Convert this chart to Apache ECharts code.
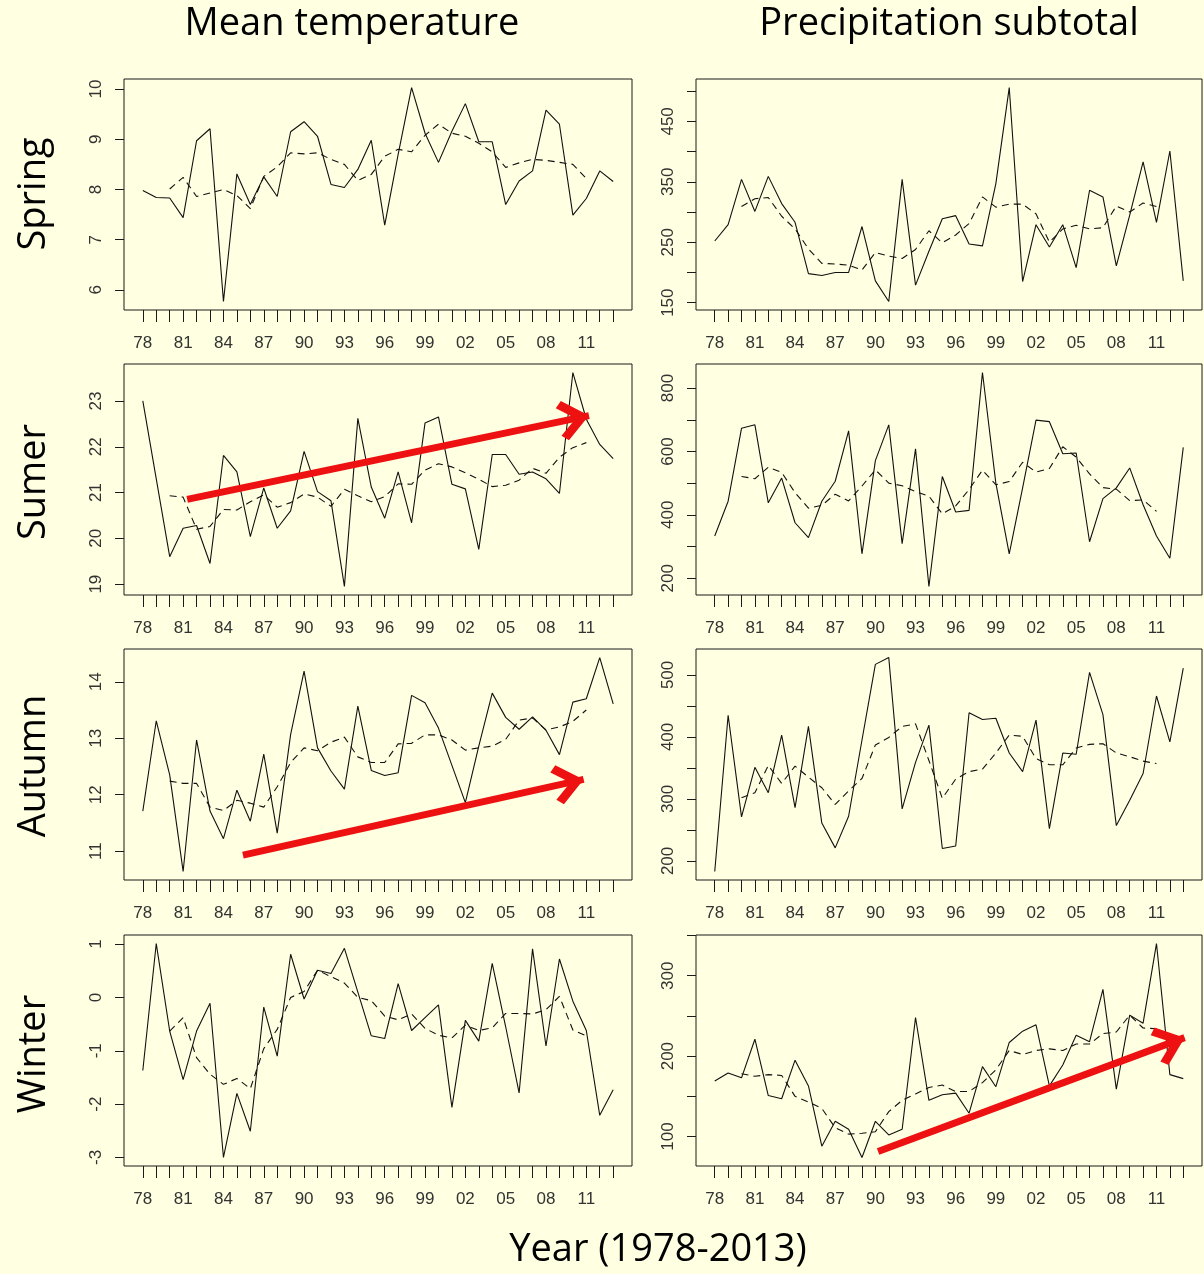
<!DOCTYPE html>
<html>
<head>
<meta charset="utf-8">
<script src="https://cdn.jsdelivr.net/npm/echarts@6/dist/echarts.min.js"></script>
<style>
html,body{margin:0;padding:0;background:#FFFFE1;}
#c{width:1204px;height:1274px;}
</style>
</head>
<body>
<div id="c"></div>
<script>
// ---------- data ----------
const YEARS = [1978,1979,1980,1981,1982,1983,1984,1985,1986,1987,1988,1989,1990,1991,1992,1993,1994,1995,1996,1997,1998,1999,2000,2001,2002,2003,2004,2005,2006,2007,2008,2009,2010,2011,2012,2013];
const MA_YEARS = [1980,1981,1982,1983,1984,1985,1986,1987,1988,1989,1990,1991,1992,1993,1994,1995,1996,1997,1998,1999,2000,2001,2002,2003,2004,2005,2006,2007,2008,2009,2010,2011];
const X_LABEL_YEARS = [1978,1981,1984,1987,1990,1993,1996,1999,2002,2005,2008,2011];

const SPRING_TEMP = [7.98,7.84,7.83,7.44,8.97,9.21,5.77,8.31,7.7,8.25,7.86,9.15,9.35,9.06,8.1,8.04,8.4,8.98,7.29,8.7,10.03,9.12,8.54,9.16,9.71,8.95,8.95,7.7,8.17,8.37,9.58,9.3,7.49,7.82,8.37,8.16];
const SPRING_TEMP_MA = [8.01,8.24,7.86,7.93,8.0,7.88,7.62,8.26,8.45,8.73,8.71,8.73,8.6,8.5,8.18,8.3,8.66,8.8,8.75,9.08,9.3,9.12,9.06,8.92,8.75,8.44,8.53,8.6,8.58,8.54,8.5,8.22];
const SPRING_PREC = [252,279,354,301,359,314,283,198,195,200,200,276,186,152,354,179,235,289,294,247,244,347,506,185,279,242,279,208,336,325,211,295,383,283,401,186];
const SPRING_PREC_MA = [309,322,324,293,272,239,215,214,212,204,233,227,223,238,269,249,262,281,325,308,313,313,297,250,272,278,272,274,310,300,315,309];

const SUMMER_TEMP = [23.0,21.3,19.6,20.22,20.28,19.45,21.81,21.45,20.04,21.1,20.22,20.6,21.9,21.02,20.82,18.95,22.62,21.12,20.44,21.45,20.34,22.52,22.65,21.18,21.08,19.76,21.83,21.83,21.4,21.45,21.3,20.98,23.62,22.6,22.05,21.74];
const SUMMER_TEMP_MA = [20.93,20.9,20.2,20.26,20.63,20.62,20.8,20.95,20.68,20.78,20.97,20.9,20.7,21.07,20.93,20.8,20.91,21.19,21.18,21.49,21.63,21.56,21.43,21.29,21.13,21.16,21.27,21.53,21.42,21.77,21.98,22.09];
const SUMMER_PREC = [333,443,673,684,438,516,375,328,443,506,665,277,571,684,309,608,174,521,409,414,849,500,277,485,699,694,593,595,315,451,485,548,432,333,263,613];
const SUMMER_PREC_MA = [521,514,550,534,470,421,430,465,444,491,542,500,492,473,459,403,428,480,541,495,505,566,535,546,615,582,529,486,481,445,447,411];

const AUTUMN_TEMP = [11.71,13.31,12.35,10.64,12.97,11.71,11.22,12.08,11.53,12.72,11.32,13.07,14.19,12.83,12.42,12.1,13.57,12.43,12.34,12.39,13.76,13.63,13.18,12.52,11.86,12.86,13.8,13.37,13.16,13.38,13.14,12.71,13.64,13.7,14.43,13.61];
const AUTUMN_TEMP_MA = [12.24,12.2,12.2,11.78,11.72,11.9,11.85,11.78,12.14,12.57,12.83,12.78,12.93,13.02,12.67,12.57,12.57,12.9,12.91,13.06,13.06,12.97,12.79,12.83,12.86,12.98,13.32,13.36,13.15,13.2,13.3,13.5];
const AUTUMN_PREC = [183,435,271,351,310,403,286,417,261,221,272,395,517,528,284,359,419,220,224,439,428,430,374,344,427,252,374,372,504,436,257,298,341,466,392,511];
const AUTUMN_PREC_MA = [302,310,354,325,353,335,318,291,313,333,387,399,417,421,362,301,332,344,348,374,403,401,365,355,355,382,388,389,374,368,361,357];

const WINTER_TEMP = [-1.37,1.01,-0.63,-1.54,-0.63,-0.11,-3.0,-1.8,-2.51,-0.18,-1.1,0.81,-0.03,0.51,0.45,0.92,0.1,-0.72,-0.77,0.26,-0.62,-0.38,-0.14,-2.06,-0.43,-0.82,0.64,-0.55,-1.79,0.91,-0.91,0.72,-0.07,-0.62,-2.21,-1.73];
const WINTER_TEMP_MA = [-0.63,-0.38,-1.13,-1.44,-1.63,-1.52,-1.71,-0.96,-0.6,0.0,0.11,0.51,0.39,0.27,0.0,-0.06,-0.35,-0.42,-0.31,-0.58,-0.71,-0.76,-0.52,-0.62,-0.57,-0.3,-0.3,-0.31,-0.23,0.02,-0.61,-0.72];
const WINTER_PREC = [169,179,173,221,151,147,195,163,88,119,109,74,119,102,109,248,145,152,154,129,187,162,217,231,239,163,189,226,218,283,159,251,241,340,177,172];
const WINTER_PREC_MA = [178,175,177,176,150,143,135,111,103,104,106,131,145,153,161,164,156,156,167,183,207,202,207,209,207,215,215,228,230,251,235,234];

// y-axis ticks and labels per panel
const SPRING_TEMP_TICKS = [6,7,8,9,10],        SPRING_TEMP_LABELS = [6,7,8,9,10];
const SPRING_PREC_TICKS = [150,200,250,300,350,400,450,500], SPRING_PREC_LABELS = [150,250,350,450];
const SUMMER_TEMP_TICKS = [19,20,21,22,23],    SUMMER_TEMP_LABELS = [19,20,21,22,23];
const SUMMER_PREC_TICKS = [200,300,400,500,600,700,800], SUMMER_PREC_LABELS = [200,400,600,800];
const AUTUMN_TEMP_TICKS = [11,12,13,14],       AUTUMN_TEMP_LABELS = [11,12,13,14];
const AUTUMN_PREC_TICKS = [200,250,300,350,400,450,500], AUTUMN_PREC_LABELS = [200,300,400,500];
const WINTER_TEMP_TICKS = [-3,-2,-1,0,1],      WINTER_TEMP_LABELS = [-3,-2,-1,0,1];
const WINTER_PREC_TICKS = [100,150,200,250,300,350], WINTER_PREC_LABELS = [100,200,300];

// red trend arrows, in data units [x1, y1, x2, y2]
const ARROW_SUMMER_TEMP = [1981.3, 20.85, 2011.2, 22.68];
const ARROW_AUTUMN_TEMP = [1985.45, 10.93, 2010.8, 12.27];
const ARROW_WINTER_PREC = [1990.2, 81.5, 2013.1, 223];

const COL_TITLES = ['Mean temperature', 'Precipitation subtotal'];
const ROW_TITLES = ['Spring', 'Sumer', 'Autumn', 'Winter'];
const X_TITLE = 'Year (1978-2013)';

// ---------- layout ----------
const COL_LEFT = [124, 696], COL_W = [508, 506];
const ROW_TOP = [79, 364, 649, 935], ROW_H = 231;
const ROW_MID = [194, 482, 766, 1054];
const COL_MID = [352, 949];

const panels = [
  {row:0,col:0,v:SPRING_TEMP,ma:SPRING_TEMP_MA,t:SPRING_TEMP_TICKS,l:SPRING_TEMP_LABELS,a:null},
  {row:0,col:1,v:SPRING_PREC,ma:SPRING_PREC_MA,t:SPRING_PREC_TICKS,l:SPRING_PREC_LABELS,a:null},
  {row:1,col:0,v:SUMMER_TEMP,ma:SUMMER_TEMP_MA,t:SUMMER_TEMP_TICKS,l:SUMMER_TEMP_LABELS,a:ARROW_SUMMER_TEMP},
  {row:1,col:1,v:SUMMER_PREC,ma:SUMMER_PREC_MA,t:SUMMER_PREC_TICKS,l:SUMMER_PREC_LABELS,a:null},
  {row:2,col:0,v:AUTUMN_TEMP,ma:AUTUMN_TEMP_MA,t:AUTUMN_TEMP_TICKS,l:AUTUMN_TEMP_LABELS,a:ARROW_AUTUMN_TEMP},
  {row:2,col:1,v:AUTUMN_PREC,ma:AUTUMN_PREC_MA,t:AUTUMN_PREC_TICKS,l:AUTUMN_PREC_LABELS,a:null},
  {row:3,col:0,v:WINTER_TEMP,ma:WINTER_TEMP_MA,t:WINTER_TEMP_TICKS,l:WINTER_TEMP_LABELS,a:null},
  {row:3,col:1,v:WINTER_PREC,ma:WINTER_PREC_MA,t:WINTER_PREC_TICKS,l:WINTER_PREC_LABELS,a:ARROW_WINTER_PREC}
];

// open chevron arrow head pointing up, tip placed at symbol centre
const ARROW_HEAD = 'path://M50 0 L100 58 L85 73 L50 32 L15 73 L0 58 Z M50 -73 L50.3 -73 L50 -72.7 Z';

const AX_FONT = '"Liberation Sans", Arial, sans-serif';
const TITLE_FONT = '"Open Sans", sans-serif';

const xMin = YEARS[0] - (YEARS[YEARS.length-1]-YEARS[0])*0.04;
const xMax = YEARS[YEARS.length-1] + (YEARS[YEARS.length-1]-YEARS[0])*0.04;

const grids = [], xAxes = [], yAxes = [], series = [];
panels.forEach((p, i) => {
  grids.push({
    left: COL_LEFT[p.col], top: ROW_TOP[p.row], width: COL_W[p.col], height: ROW_H,
    show: true, borderColor: '#1a1a1a', borderWidth: 1, backgroundColor: 'transparent'
  });
  xAxes.push({
    type: 'value', gridIndex: i, min: xMin, max: xMax, position: 'bottom',
    axisLine: {show: false, onZero: false}, splitLine: {show: false},
    axisTick: {show: true, inside: false, length: 12, customValues: YEARS, lineStyle: {color: '#1a1a1a', width: 1}},
    axisLabel: {show: true, customValues: X_LABEL_YEARS, margin: 25, fontSize: 17, color: '#333', fontFamily: AX_FONT,
      formatter: v => String(Math.round(v) % 100).padStart(2, '0')}
  });
  const lo = Math.min(...p.v), hi = Math.max(...p.v), pad = (hi - lo) * 0.04;
  yAxes.push({
    type: 'value', gridIndex: i, min: lo - pad, max: hi + pad, position: 'left',
    axisLine: {show: false, onZero: false}, splitLine: {show: false},
    axisTick: {show: true, inside: false, length: 9, customValues: p.t, lineStyle: {color: '#1a1a1a', width: 1}},
    axisLabel: {show: true, customValues: p.l, rotate: 90, margin: 19, fontSize: 17, color: '#333', fontFamily: AX_FONT}
  });
  const solid = {
    type: 'line', xAxisIndex: i, yAxisIndex: i, symbol: 'none', silent: true, animation: false,
    data: YEARS.map((y, k) => [y, p.v[k]]),
    lineStyle: {color: '#111', width: 1.1}, z: 3
  };
  if (p.a) {
    solid.markLine = {
      silent: true, animation: false,
      symbol: ['none', ARROW_HEAD], symbolSize: [40, 62],
      label: {show: false},
      lineStyle: {color: '#EE1111', width: 7, type: 'solid', opacity: 1},
      emphasis: {disabled: true},
      data: [[{coord: [p.a[0], p.a[1]]}, {coord: [p.a[2], p.a[3]]}]]
    };
  }
  series.push(solid);
  series.push({
    type: 'line', xAxisIndex: i, yAxisIndex: i, symbol: 'none', silent: true, animation: false,
    data: MA_YEARS.map((y, k) => [y, p.ma[k]]),
    lineStyle: {color: '#111', width: 1.1, type: [7, 5]}, z: 2
  });
});

const graphic = [];
COL_TITLES.forEach((t, c) => graphic.push({
  type: 'text', x: COL_MID[c], y: 24, silent: true,
  style: {text: t, font: '38px ' + TITLE_FONT, fill: '#000', textAlign: 'center', textVerticalAlign: 'middle'}
}));
ROW_TITLES.forEach((t, r) => graphic.push({
  type: 'text', x: 34, y: ROW_MID[r], rotation: Math.PI / 2, silent: true,
  style: {text: t, font: '38px ' + TITLE_FONT, fill: '#000', textAlign: 'center', textVerticalAlign: 'middle'}
}));
graphic.push({
  type: 'text', x: 658, y: 1250, silent: true,
  style: {text: X_TITLE, font: '38px ' + TITLE_FONT, fill: '#000', textAlign: 'center', textVerticalAlign: 'middle'}
});

const chart = echarts.init(document.getElementById('c'));
chart.setOption({
  backgroundColor: '#FFFFE1',
  animation: false,
  grid: grids, xAxis: xAxes, yAxis: yAxes, series: series, graphic: graphic
});
</script>
</body>
</html>
